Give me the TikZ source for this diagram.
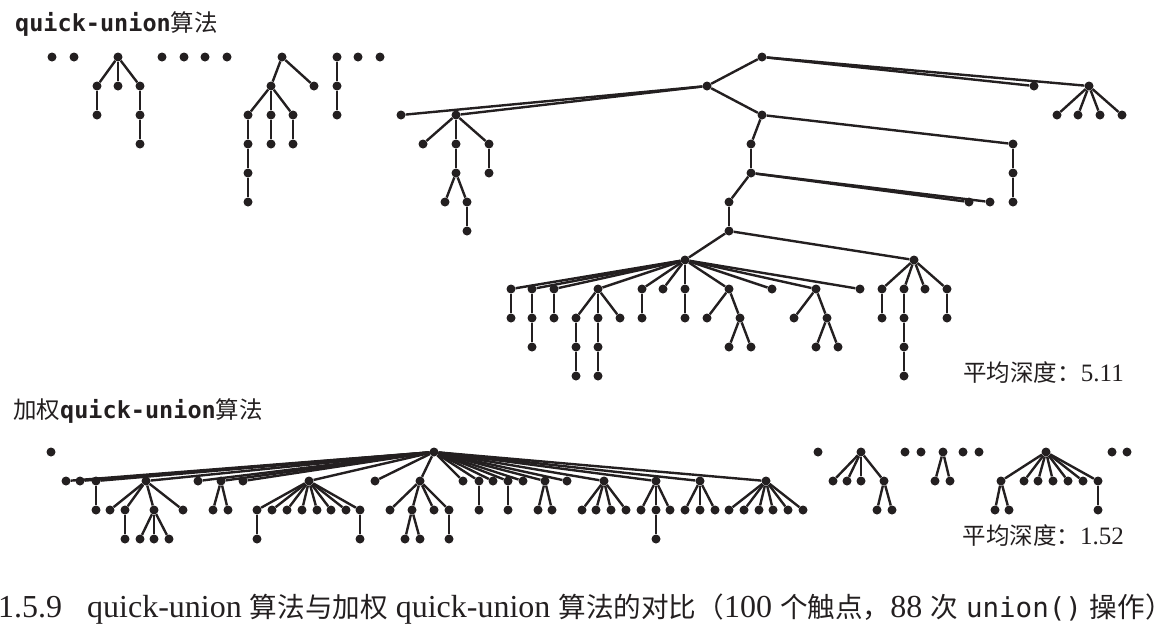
\documentclass[tikz,border=0pt]{standalone}
\usepackage{fontspec}
\usepackage{xcolor}
\usepackage{tikz}
\setmainfont{Liberation Serif}
\newfontfamily\cjk{Noto Sans CJK SC}
\newfontfamily\code{DejaVu Sans Mono}
\definecolor{ink}{HTML}{231F20}
\newcommand\han[1]{{\cjk\fontsize{27.6}{32}\selectfont #1}}

\begin{document}
\begin{tikzpicture}[x=1pt, y=-1pt,
    site/.style={circle, fill=ink, inner sep=0pt, minimum size=9pt},
    link/.style={draw=ink, line width=2.4pt},
    label/.style={ink, inner sep=0pt, font=\fontsize{23.5}{28}\selectfont}]
    \useasboundingbox (0,0) rectangle (1176,630);
    \node[label, anchor=base west] (titlequ) at (15,31.5) {{\code\bfseries quick-union}{\cjk 算法}};
    \foreach \x/\r in {52/0, 74/0, 118/0, 97/1, 118/1, 140/1, 97/2, 140/2, 140/3,
      162/0, 184/0, 205/0, 227/0,
      282/0, 271/1, 314/1, 248/2, 271/2, 293/2, 248/3, 271/3, 293/3, 248/4, 248/5,
      337/0, 337/1, 337/2, 358/0, 380/0,
      762/0, 707/1, 1034/1, 1089/1, 401/2, 456/2, 762/2, 1057/2, 1078/2, 1100/2, 1122/2,
      423/3, 456/3, 489/3, 751/3, 1013/3, 456/4, 489/4, 751/4, 1013/4,
      445/5, 467/5, 729/5, 969/5, 990/5, 1013/5, 467/6, 729/6, 685/7, 914/7,
      511/8, 532/8, 554/8, 598/8, 642/8, 663/8, 685/8, 729/8, 772/8, 816/8, 860/8, 882/8, 904/8, 925/8, 947/8,
      511/9, 532/9, 554/9, 576/9, 598/9, 620/9, 642/9, 685/9, 707/9, 740/9, 794/9, 827/9, 882/9, 904/9, 947/9,
      532/10, 576/10, 598/10, 729/10, 751/10, 816/10, 838/10, 904/10,
      576/11, 598/11, 904/11}
      \node[site] (q\x r\r) at (\x,{57+29*\r}) {};
    \foreach \p/\k in {118r0/{97r1,118r1,140r1}, 97r1/97r2, 140r1/140r2, 140r2/140r3,
      282r0/{271r1,314r1}, 271r1/{248r2,271r2,293r2}, 248r2/248r3, 248r3/248r4, 248r4/248r5, 271r2/271r3, 293r2/293r3,
      337r0/337r1, 337r1/337r2,
      762r0/{707r1,1034r1,1089r1}, 1089r1/{1057r2,1078r2,1100r2,1122r2},
      707r1/{401r2,456r2,762r2},
      456r2/{423r3,456r3,489r3}, 456r3/456r4, 489r3/489r4, 456r4/{445r5,467r5}, 467r5/467r6,
      762r2/{751r3,1013r3}, 1013r3/1013r4, 1013r4/1013r5,
      751r3/751r4, 751r4/{729r5,969r5,990r5}, 729r5/729r6, 729r6/{685r7,914r7},
      685r7/{511r8,532r8,554r8,598r8,642r8,663r8,685r8,729r8,772r8,816r8,860r8},
      511r8/511r9, 532r8/532r9, 532r9/532r10, 554r8/554r9,
      598r8/{576r9,598r9,620r9}, 576r9/576r10, 576r10/576r11, 598r9/598r10, 598r10/598r11,
      642r8/642r9, 685r8/685r9,
      729r8/{707r9,740r9}, 740r9/{729r10,751r10},
      816r8/{794r9,827r9}, 827r9/{816r10,838r10},
      914r7/{882r8,904r8,925r8,947r8}, 882r8/882r9, 904r8/904r9, 904r9/904r10, 904r10/904r11, 947r8/947r9}
      \foreach \c in \k
        \draw[link] (q\p) -- (q\c);
    \node[label, anchor=base east] (depthqu) at (1124,381.5) {{\cjk 平均深度：}{\fontsize{25}{28}\selectfont 5.11}};

    \node[label, anchor=base west] (titlewqu) at (13,418) {{\cjk 加权}{\code\bfseries quick-union}{\cjk 算法}};
    \foreach \x/\r in {51/0, 434/0, 818/0, 861/0, 905/0, 921/0, 943/0, 963/0, 979/0, 1046/0, 1112/0, 1127/0,
      66/1, 80/1, 96/1, 146/1, 198/1, 221/1, 243/1, 309/1, 375/1, 420/1, 463/1, 479/1, 493/1, 508/1, 523/1,
      545/1, 567/1, 604/1, 656/1, 700/1, 766/1, 833/1, 847/1, 861/1, 884/1, 935/1, 950/1,
      1001/1, 1024/1, 1038/1, 1053/1, 1068/1, 1083/1, 1098/1,
      96/2, 110/2, 125/2, 154/2, 183/2, 213/2, 228/2, 257/2, 272/2, 287/2, 302/2, 317/2, 331/2, 346/2, 360/2,
      390/2, 412/2, 434/2, 449/2, 479/2, 508/2, 538/2, 552/2, 582/2, 596/2, 611/2, 626/2, 641/2, 656/2, 670/2,
      685/2, 700/2, 715/2, 729/2, 744/2, 759/2, 773/2, 788/2, 803/2, 877/2, 892/2, 995/2, 1009/2, 1098/2,
      125/3, 140/3, 154/3, 169/3, 257/3, 360/3, 405/3, 420/3, 449/3, 656/3}
      \node[site] (w\x r\r) at (\x,{452+29*\r}) {};
    \foreach \p/\k in {434r0/{66r1,80r1,96r1,146r1,198r1,221r1,243r1,309r1,375r1,420r1,463r1,479r1,493r1,508r1,523r1,545r1,567r1,604r1,656r1,700r1,766r1},
      96r1/96r2, 146r1/{110r2,125r2,154r2,183r2}, 125r2/125r3, 154r2/{140r3,154r3,169r3},
      221r1/{213r2,228r2}, 309r1/{257r2,272r2,287r2,302r2,317r2,331r2,346r2,360r2}, 257r2/257r3, 360r2/360r3,
      420r1/{390r2,412r2,434r2,449r2}, 412r2/{405r3,420r3}, 449r2/449r3,
      479r1/479r2, 508r1/508r2, 545r1/{538r2,552r2}, 604r1/{582r2,596r2,611r2,626r2},
      656r1/{641r2,656r2,670r2}, 656r2/656r3, 700r1/{685r2,700r2,715r2}, 766r1/{729r2,744r2,759r2,773r2,788r2,803r2},
      861r0/{833r1,847r1,861r1,884r1}, 884r1/{877r2,892r2}, 943r0/{935r1,950r1},
      1046r0/{1001r1,1024r1,1038r1,1053r1,1068r1,1083r1,1098r1}, 1001r1/{995r2,1009r2}, 1098r1/1098r2}
      \foreach \c in \k
        \draw[link] (w\p) -- (w\c);
    \node[label, anchor=base east] (depthwqu) at (1124,544) {{\cjk 平均深度：}{\fontsize{25}{28}\selectfont 1.52}};

    \node[ink, inner sep=0pt, anchor=base west, font=\fontsize{32}{36}\selectfont] (caption) at (-2,617)
      {1.5.9\hspace{25pt}quick-union \han{算法与加权} quick-union \han{算法的对比（}100 \han{个触点，}88 \han{次} {\code\fontsize{27.5}{32}\selectfont union()} \han{操作）}};
  \end{tikzpicture}
\end{document}
